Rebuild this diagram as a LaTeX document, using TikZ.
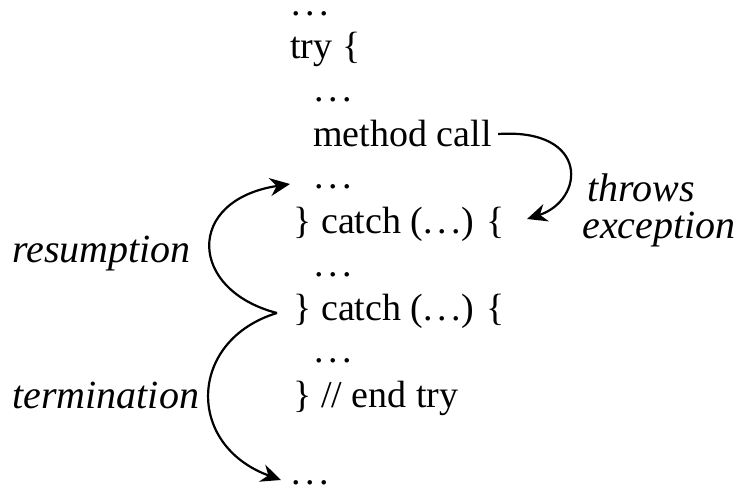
\documentclass[tikz,border=0pt]{standalone}
\usepackage{fontspec}
\setmainfont{Liberation Serif}
\usetikzlibrary{arrows.meta}
\newcommand{\sdots}{.\kern0.12em.\kern0.12em.}
\tikzset{
>={Stealth[width=9pt,length=10pt]},
	codeline/.style={
		inner sep=0pt,
		anchor=base west,
		font=\fontsize{19}{23}\selectfont},
	remark/.style={
		inner sep=0pt,
		anchor=base west,
		align=left,
		font=\fontsize{20}{20}\selectfont\itshape},
	flow/.style={
		->,
		line width=1.1pt}
}
\begin{document}
\begin{tikzpicture}
[x=0.5pt, y=-0.5pt]
\useasboundingbox (0,0) rectangle (740,489);
\node[codeline] (top) at (291,15) {\sdots};
\node[codeline] (try) at (290,58) {try \{};
\node[codeline] (dotsa) at (314,101) {\sdots};
\node[codeline] (call) at (313,146) {method call};
\node[codeline] (dotsb) at (314,188) {\sdots};
\node[codeline] (catcha) at (293,233) {\} catch (\sdots) \{};
\node[codeline] (dotsc) at (314,276) {\sdots};
\node[codeline] (catchb) at (293,320) {\} catch (\sdots) \{};
\node[codeline] (dotsd) at (314,362) {\sdots};
\node[codeline] (endtry) at (293,407) {\} // end try};
\node[codeline] (bottom) at (291,484) {\sdots};
\node[remark] (throws) at (587,201) {throws};
\node[remark] (except) at (582,238) {exception};
\node[remark] (resume) at (12,262) {resumption};
\node[remark] (term) at (12,408) {termination};
\coordinate (cusp) at (277,313);
\draw[flow] ([shift={(6,-12)}]call.base east) .. controls (590,128) and (585,200) .. ([shift={(22,-14)}]catcha.base east);
\draw[flow] (cusp) .. controls (188,290) and (185,200) .. ([shift={(-24,-4)}]dotsb.base west);
\draw[flow] (cusp) .. controls (188,340) and (185,445) .. ([shift={(-10,-4)}]bottom.base west);
\end{tikzpicture}
\end{document}
